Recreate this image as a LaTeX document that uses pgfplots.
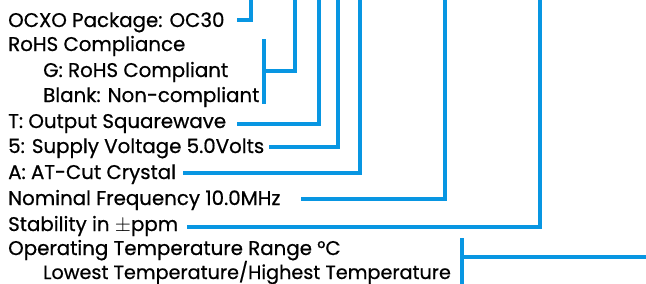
\documentclass[border=0pt]{standalone}
\usepackage{pgfplots}
\pgfplotsset{compat=1.18}
\usepackage{fontspec}
\setmainfont{Poppins}[UprightFeatures={FakeBold=0.6}]
\definecolor{lineblue}{HTML}{0896E2}
\tikzset{conn/.style={draw=lineblue, solid, line width=4.5pt, line join=miter, mark=none}}
\begin{document}
\begin{tikzpicture}
\begin{axis}[name=ax, scale only axis, width=646pt, height=284pt,
  xmin=0, xmax=646, ymin=0, ymax=284, y dir=reverse, hide axis, clip=false]
% connectors
\addplot[conn] coordinates {(237,20) (251,20) (251,-3)};
\addplot[conn] coordinates {(264,39) (264,104)};
\addplot[conn] coordinates {(264,71) (295,71) (295,-3)};
\addplot[conn] coordinates {(237,124) (319,124) (319,-3)};
\addplot[conn] coordinates {(269,147) (338,147) (338,-3)};
\addplot[conn] coordinates {(183,173) (360,173) (360,-3)};
\addplot[conn] coordinates {(301,199) (445,199) (445,-3)};
\addplot[conn] coordinates {(187,227) (540,227) (540,-3)};
\addplot[conn] coordinates {(462,238) (462,287)};
\addplot[conn] coordinates {(462,257) (649,257)};
% labels
\begin{scope}[every node/.style={anchor=base west, inner sep=0pt, font=\fontsize{19.8}{24}\selectfont}]
\node at (axis cs:8,27) {OCXO Package: OC30};
\node at (axis cs:8,51) {RoHS Compliance};
\node at (axis cs:43,77) {G: RoHS Compliant};
\node at (axis cs:43,102) {Blank: Non-compliant};
\node at (axis cs:8,128) {T: Output Squarewave};
\node at (axis cs:8,153) {5: Supply Voltage 5.0Volts};
\node at (axis cs:8,179) {A: AT-Cut Crystal};
\node at (axis cs:8,205) {Nominal Frequency 10.0MHz};
\node at (axis cs:8,231) {Stability in $\pm$ppm};
\node at (axis cs:8,255) {Operating Temperature Range °C};
\node[font=\fontsize{19.2}{24}\selectfont] at (axis cs:43,279) {Lowest Temperature/Highest Temperature};
\end{scope}
\end{axis}
\pgfresetboundingbox
\path (ax.south west) rectangle (ax.north east);
\end{tikzpicture}
\end{document}
